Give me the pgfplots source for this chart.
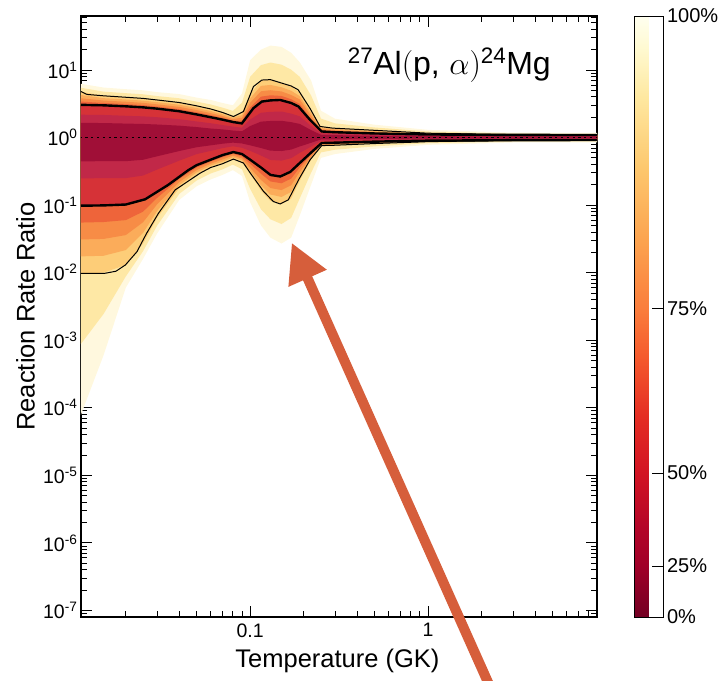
\RequirePackage{fix-cm}
\documentclass[border=0pt]{standalone}
\usepackage{fontspec}
\setmainfont{Liberation Sans}
\usepackage{pgfplots}
\usepackage{pgfplotstable}
\pgfplotsset{compat=1.18}
\usepgfplotslibrary{fillbetween}
\usetikzlibrary{arrows.meta}

\definecolor{cA}{RGB}{255,248,222}
\definecolor{cB}{RGB}{254,232,165}
\definecolor{cC}{RGB}{253,205,120}
\definecolor{cK}{RGB}{251,172,90}
\definecolor{cD}{RGB}{247,140,70}
\definecolor{cH}{RGB}{238,100,58}
\definecolor{cE}{RGB}{214,50,55}
\definecolor{cF}{RGB}{193,40,72}
\definecolor{cG}{RGB}{160,15,55}
\definecolor{arrowc}{RGB}{214,94,59}

% density bands: upper / lower edge of each colour layer
\pgfplotstableread{
T     Aup  Alo    Bup   Blo     Cup   Clo    Kup  Klo    Dup   Dlo    Hup   Hlo   Eup   Elo   Fup   Flo   Gup   Glo
0.011 6.3  7e-5   5.5   8.3e-4  4.8   0.0098 4.29 0.0174 3.83  0.031  3.42  0.0551 3.05 0.098 2.18  0.248 1.65  0.444
0.015 5.5  6e-4   4.78  2.45e-3 4.15  0.0100 3.83 0.0178 3.53  0.0316 3.25  0.0562 3.0  0.10  2.16  0.251 1.64  0.447
0.02  5.2  6e-3   4.54  8.8e-3  3.95  0.013  3.66 0.0216 3.39  0.036  3.13  0.060  2.9  0.10  2.10  0.251 1.61  0.447
0.025 5.0  0.016  4.37  0.0208  3.8   0.027  3.52 0.0388 3.26  0.0557 3.02  0.080  2.8  0.115 2.06  0.274 1.59  0.469
0.03  4.7  0.038  4.11  0.0497  3.6   0.065  3.34 0.0818 3.10  0.103  2.88  0.128  2.68 0.16  2.0   0.336 1.56  0.528
0.04  4.4  0.12   3.81  0.147   3.3   0.18   3.06 0.199  2.84  0.220  2.64  0.244  2.45 0.27  1.87  0.456 1.50  0.632
0.05  3.9  0.19   3.40  0.231   2.95  0.28   2.74 0.304  2.55  0.330  2.37  0.359  2.2  0.39  1.73  0.569 1.43  0.719
0.06  3.6  0.24   3.09  0.294   2.65  0.36   2.47 0.385  2.30  0.411  2.15  0.440  2.0  0.47  1.63  0.635 1.36  0.767
0.07  3.25 0.28   2.77  0.339   2.35  0.41   2.21 0.441  2.08  0.474  1.96  0.511  1.84 0.55  1.53  0.698 1.32  0.811
0.08  3.0  0.33   2.48  0.398   2.05  0.48   1.96 0.509  1.87  0.541  1.78  0.574  1.70 0.61  1.45  0.743 1.27  0.841
0.09  4.5  0.27   3.29  0.339   2.35  0.43   2.15 0.459  1.97  0.490  1.79  0.524  1.62 0.56  1.40  0.706 1.24  0.817
0.1   14   0.11   7.94  0.174   4.4   0.29   3.80 0.321  3.28  0.356  2.78  0.409  2.35 0.47  1.85  0.635 1.48  0.767
0.115 20   0.05   11.8  0.087   7.0   0.165  5.82 0.197  4.84  0.236  4.03  0.292  3.35 0.36  2.33  0.542 1.72  0.700
0.13  23   0.033  12.9  0.0617  7.2   0.115  6.01 0.1435 5.02  0.179  4.22  0.224  3.55 0.28  2.40  0.466 1.76  0.640
0.15  22   0.027  12.0  0.0525  6.4   0.104  5.55 0.132  4.81  0.167  4.13  0.2105 3.55 0.265 2.43  0.456 1.77  0.632
0.17  18   0.033  10.1  0.0646  5.7   0.125  4.93 0.157  4.27  0.197  3.69  0.247  3.2  0.31  2.26  0.495 1.69  0.664
0.19  13   0.07   7.91  0.126   4.6   0.23   4.10 0.2675 3.66  0.311  3.14  0.361  2.7  0.42  2.06  0.594 1.59  0.738
0.22  7    0.2    4.19  0.302   2.55  0.47   2.31 0.494  2.09  0.519  1.88  0.558  1.7  0.60  1.48  0.736 1.29  0.836
0.25  2.5  0.5    1.91  0.603   1.45  0.75   1.39 0.766  1.34  0.783  1.284 0.806  1.23 0.83  1.156 0.893 1.10  0.938
0.3   1.9  0.57   1.62  0.661   1.38  0.77   1.334 0.784 1.29  0.798  1.244 0.819  1.20 0.84  1.135 0.900 1.086 0.940
0.5   1.55 0.68   1.41  0.741   1.28  0.815  1.245 0.828 1.21  0.842  1.180 0.856  1.15 0.87  1.104 0.920 1.064 0.953
1     1.3  0.78   1.23  0.824   1.16  0.87   1.147 0.877 1.135 0.885  1.122 0.892  1.11 0.90  1.076 0.938 1.047 0.964
3     1.18 0.845  1.14  0.875   1.105 0.905  1.102 0.907 1.10  0.910  1.097 0.912  1.095 0.915 1.064 0.948 1.042 0.968
9     1.17 0.85   1.135 0.879   1.10  0.91   1.097 0.912 1.094 0.915  1.092 0.917  1.09 0.92  1.062 0.951 1.040 0.970
}\bands

\begin{document}
\begin{tikzpicture}
\begin{axis}[
  at={(0pt,0pt)}, anchor=south west,
  scale only axis, width=516pt, height=601pt,
  xmode=log, ymode=log,
  xmin=0.0112, xmax=8.9, ymin=8e-8, ymax=63,
  axis line style={line width=1.4pt},
  tick align=inside,
  major tick length=11pt, minor tick length=6pt,
  every tick/.style={black, line width=0.9pt},
  xtick={0.1,1}, xticklabels={0.1,1},
  minor xtick={0.02,0.03,0.04,0.05,0.06,0.07,0.08,0.09,0.2,0.3,0.4,0.5,0.6,0.7,0.8,0.9,2,3,4,5,6,7,8},
  ytick={1e-7,1e-6,1e-5,1e-4,1e-3,1e-2,1e-1,1,10},
  minor ytick={8e-8,9e-8,
    2e-7,3e-7,4e-7,5e-7,6e-7,7e-7,8e-7,9e-7,
    2e-6,3e-6,4e-6,5e-6,6e-6,7e-6,8e-6,9e-6,
    2e-5,3e-5,4e-5,5e-5,6e-5,7e-5,8e-5,9e-5,
    2e-4,3e-4,4e-4,5e-4,6e-4,7e-4,8e-4,9e-4,
    2e-3,3e-3,4e-3,5e-3,6e-3,7e-3,8e-3,9e-3,
    0.02,0.03,0.04,0.05,0.06,0.07,0.08,0.09,
    0.2,0.3,0.4,0.5,0.6,0.7,0.8,0.9,
    2,3,4,5,6,7,8,9,20,30,40,50,60},
  yticklabel={10\textsuperscript{\pgfmathparse{int(round(\tick/ln(10)))}\pgfmathresult}},
  tick label style={font=\fontsize{19.5}{22}\selectfont},
  xticklabel style={yshift=-3pt},
  xlabel={Temperature (GK)}, ylabel={Reaction Rate Ratio},
  label style={font=\fontsize{25.5}{30}\selectfont, inner sep=0pt},
  xlabel style={at={(rel axis cs:0.497,-0.0832)}, anchor=base},
  ylabel style={at={(rel axis cs:-0.0891,0.5)}, anchor=south},
  colormap={probmap}{rgb255(0pt)=(115,0,35); rgb255(51pt)=(160,0,40); rgb255(90pt)=(180,5,40);
    rgb255(144pt)=(210,20,35); rgb255(200pt)=(228,45,35); rgb255(260pt)=(245,90,45);
    rgb255(308pt)=(250,125,60); rgb255(380pt)=(252,165,80); rgb255(450pt)=(253,200,110);
    rgb255(520pt)=(254,232,160); rgb255(570pt)=(255,250,210); rgb255(601pt)=(255,255,240)},
  point meta min=0, point meta max=1,
  colorbar,
  colorbar style={
    at={(parent axis.north east)}, anchor=north west, xshift=29pt,
    scale only axis, width=29pt, height=601pt,
    ymode=linear, ymin=0, ymax=1,
    ytick={0,0.0849,0.2396,0.513,1},
    yticklabels={0\%,25\%,50\%,75\%,100\%},
    minor ytick={},
    ytick pos=right, yticklabel pos=right,
    major tick length=0pt,
    axis line style={line width=0.9pt},
    yticklabel style={font=\fontsize{20}{24}\selectfont},
    extra description/.code={
      \foreach \v in {0.0849,0.2396,0.513}
        {\draw[black, line width=0.8pt] (rel axis cs:1,\v) -- ++(-12pt,0pt);}
    },
  },
]

% colour layers, outside to inside
\addplot[draw=none, name path=Aup] table[x=T, y=Aup]{\bands};
\addplot[draw=none, name path=Alo] table[x=T, y=Alo]{\bands};
\addplot[draw=none, name path=Bup] table[x=T, y=Bup]{\bands};
\addplot[draw=none, name path=Blo] table[x=T, y=Blo]{\bands};
\addplot[draw=none, name path=Cup] table[x=T, y=Cup]{\bands};
\addplot[draw=none, name path=Clo] table[x=T, y=Clo]{\bands};
\addplot[draw=none, name path=Kup] table[x=T, y=Kup]{\bands};
\addplot[draw=none, name path=Klo] table[x=T, y=Klo]{\bands};
\addplot[draw=none, name path=Dup] table[x=T, y=Dup]{\bands};
\addplot[draw=none, name path=Dlo] table[x=T, y=Dlo]{\bands};
\addplot[draw=none, name path=Hup] table[x=T, y=Hup]{\bands};
\addplot[draw=none, name path=Hlo] table[x=T, y=Hlo]{\bands};
\addplot[draw=none, name path=Eup] table[x=T, y=Eup]{\bands};
\addplot[draw=none, name path=Elo] table[x=T, y=Elo]{\bands};
\addplot[draw=none, name path=Fup] table[x=T, y=Fup]{\bands};
\addplot[draw=none, name path=Flo] table[x=T, y=Flo]{\bands};
\addplot[draw=none, name path=Gup] table[x=T, y=Gup]{\bands};
\addplot[draw=none, name path=Glo] table[x=T, y=Glo]{\bands};
\addplot[cA] fill between[of=Aup and Alo];
\addplot[cB] fill between[of=Bup and Blo];
\addplot[cC] fill between[of=Cup and Clo];
\addplot[cK] fill between[of=Kup and Klo];
\addplot[cD] fill between[of=Dup and Dlo];
\addplot[cH] fill between[of=Hup and Hlo];
\addplot[cE] fill between[of=Eup and Elo];
\addplot[cF] fill between[of=Fup and Flo];
\addplot[cG] fill between[of=Gup and Glo];

% recommended rate
\addplot[black, line width=1.8pt, dash pattern=on 2.2pt off 3.6pt] coordinates {(0.011,1) (9,1)};

% thin contours
\addplot[black, line width=1pt] coordinates {
(0.0112,4.8) (0.0121,4.35) (0.015,4.15) (0.02,3.95) (0.025,3.8) (0.03,3.6) (0.04,3.3)
(0.05,2.95) (0.06,2.65) (0.07,2.35) (0.0805,2.05) (0.0917,2.43) (0.1044,5.7) (0.1163,7.1)
(0.13,7.2) (0.1475,6.5) (0.17,5.8) (0.186,5.1) (0.217,2.7) (0.247,1.46) (0.29,1.38)
(0.5,1.28) (1,1.16) (3,1.105) (8.9,1.10)};
\addplot[black, line width=1pt] coordinates {
(0.0112,0.0098) (0.0153,0.0098) (0.0176,0.0105) (0.0199,0.013) (0.0231,0.0204) (0.0262,0.0384)
(0.0305,0.0755) (0.0379,0.168) (0.0523,0.297) (0.06,0.36) (0.07,0.41) (0.0805,0.48)
(0.0917,0.42) (0.1,0.3) (0.1188,0.16) (0.135,0.113) (0.1475,0.104) (0.164,0.12) (0.187,0.236)
(0.217,0.467) (0.2525,0.76) (0.3,0.77) (0.5,0.815) (1,0.87) (3,0.905) (8.9,0.91)};

% thick contours
\addplot[black, line width=2.4pt] coordinates {
(0.0112,3.05) (0.015,3.0) (0.02,2.9) (0.025,2.8) (0.03,2.68) (0.04,2.45) (0.05,2.2)
(0.06,2.0) (0.07,1.84) (0.08,1.70) (0.0898,1.62) (0.1044,2.73) (0.1163,3.41) (0.13,3.55)
(0.1475,3.6) (0.17,3.25) (0.187,2.88) (0.217,1.83) (0.2525,1.23) (0.3,1.20) (0.5,1.15)
(1,1.11) (3,1.095) (8.9,1.09)};
\addplot[black, line width=2.4pt] coordinates {
(0.0112,0.098) (0.015,0.099) (0.02,0.102) (0.0257,0.122) (0.0346,0.199) (0.045,0.33)
(0.05,0.39) (0.06,0.47) (0.07,0.55) (0.0805,0.61) (0.09,0.57) (0.1,0.47) (0.115,0.36)
(0.13,0.28) (0.1475,0.265) (0.168,0.31) (0.19,0.42) (0.22,0.60) (0.2525,0.83) (0.3,0.84)
(0.5,0.87) (1,0.90) (3,0.915) (8.9,0.92)};

\node[anchor=base west, inner sep=0pt, font=\fontsize{32}{38}\selectfont]
  at (rel axis cs:0.517,0.902)
  {\textsuperscript{27}Al$\big($p,\hspace{0.3em}$\alpha\big)$\textsuperscript{24}Mg};
\end{axis}

\draw[line width=10pt, arrowc, -{Triangle[length=39pt, width=39pt]}]
  (414.9pt,-83pt) -- (210.7pt,374.3pt);

\pgfresetboundingbox
\path[use as bounding box] (-81pt,-63pt) rectangle (639pt,617pt);
\end{tikzpicture}
\end{document}
